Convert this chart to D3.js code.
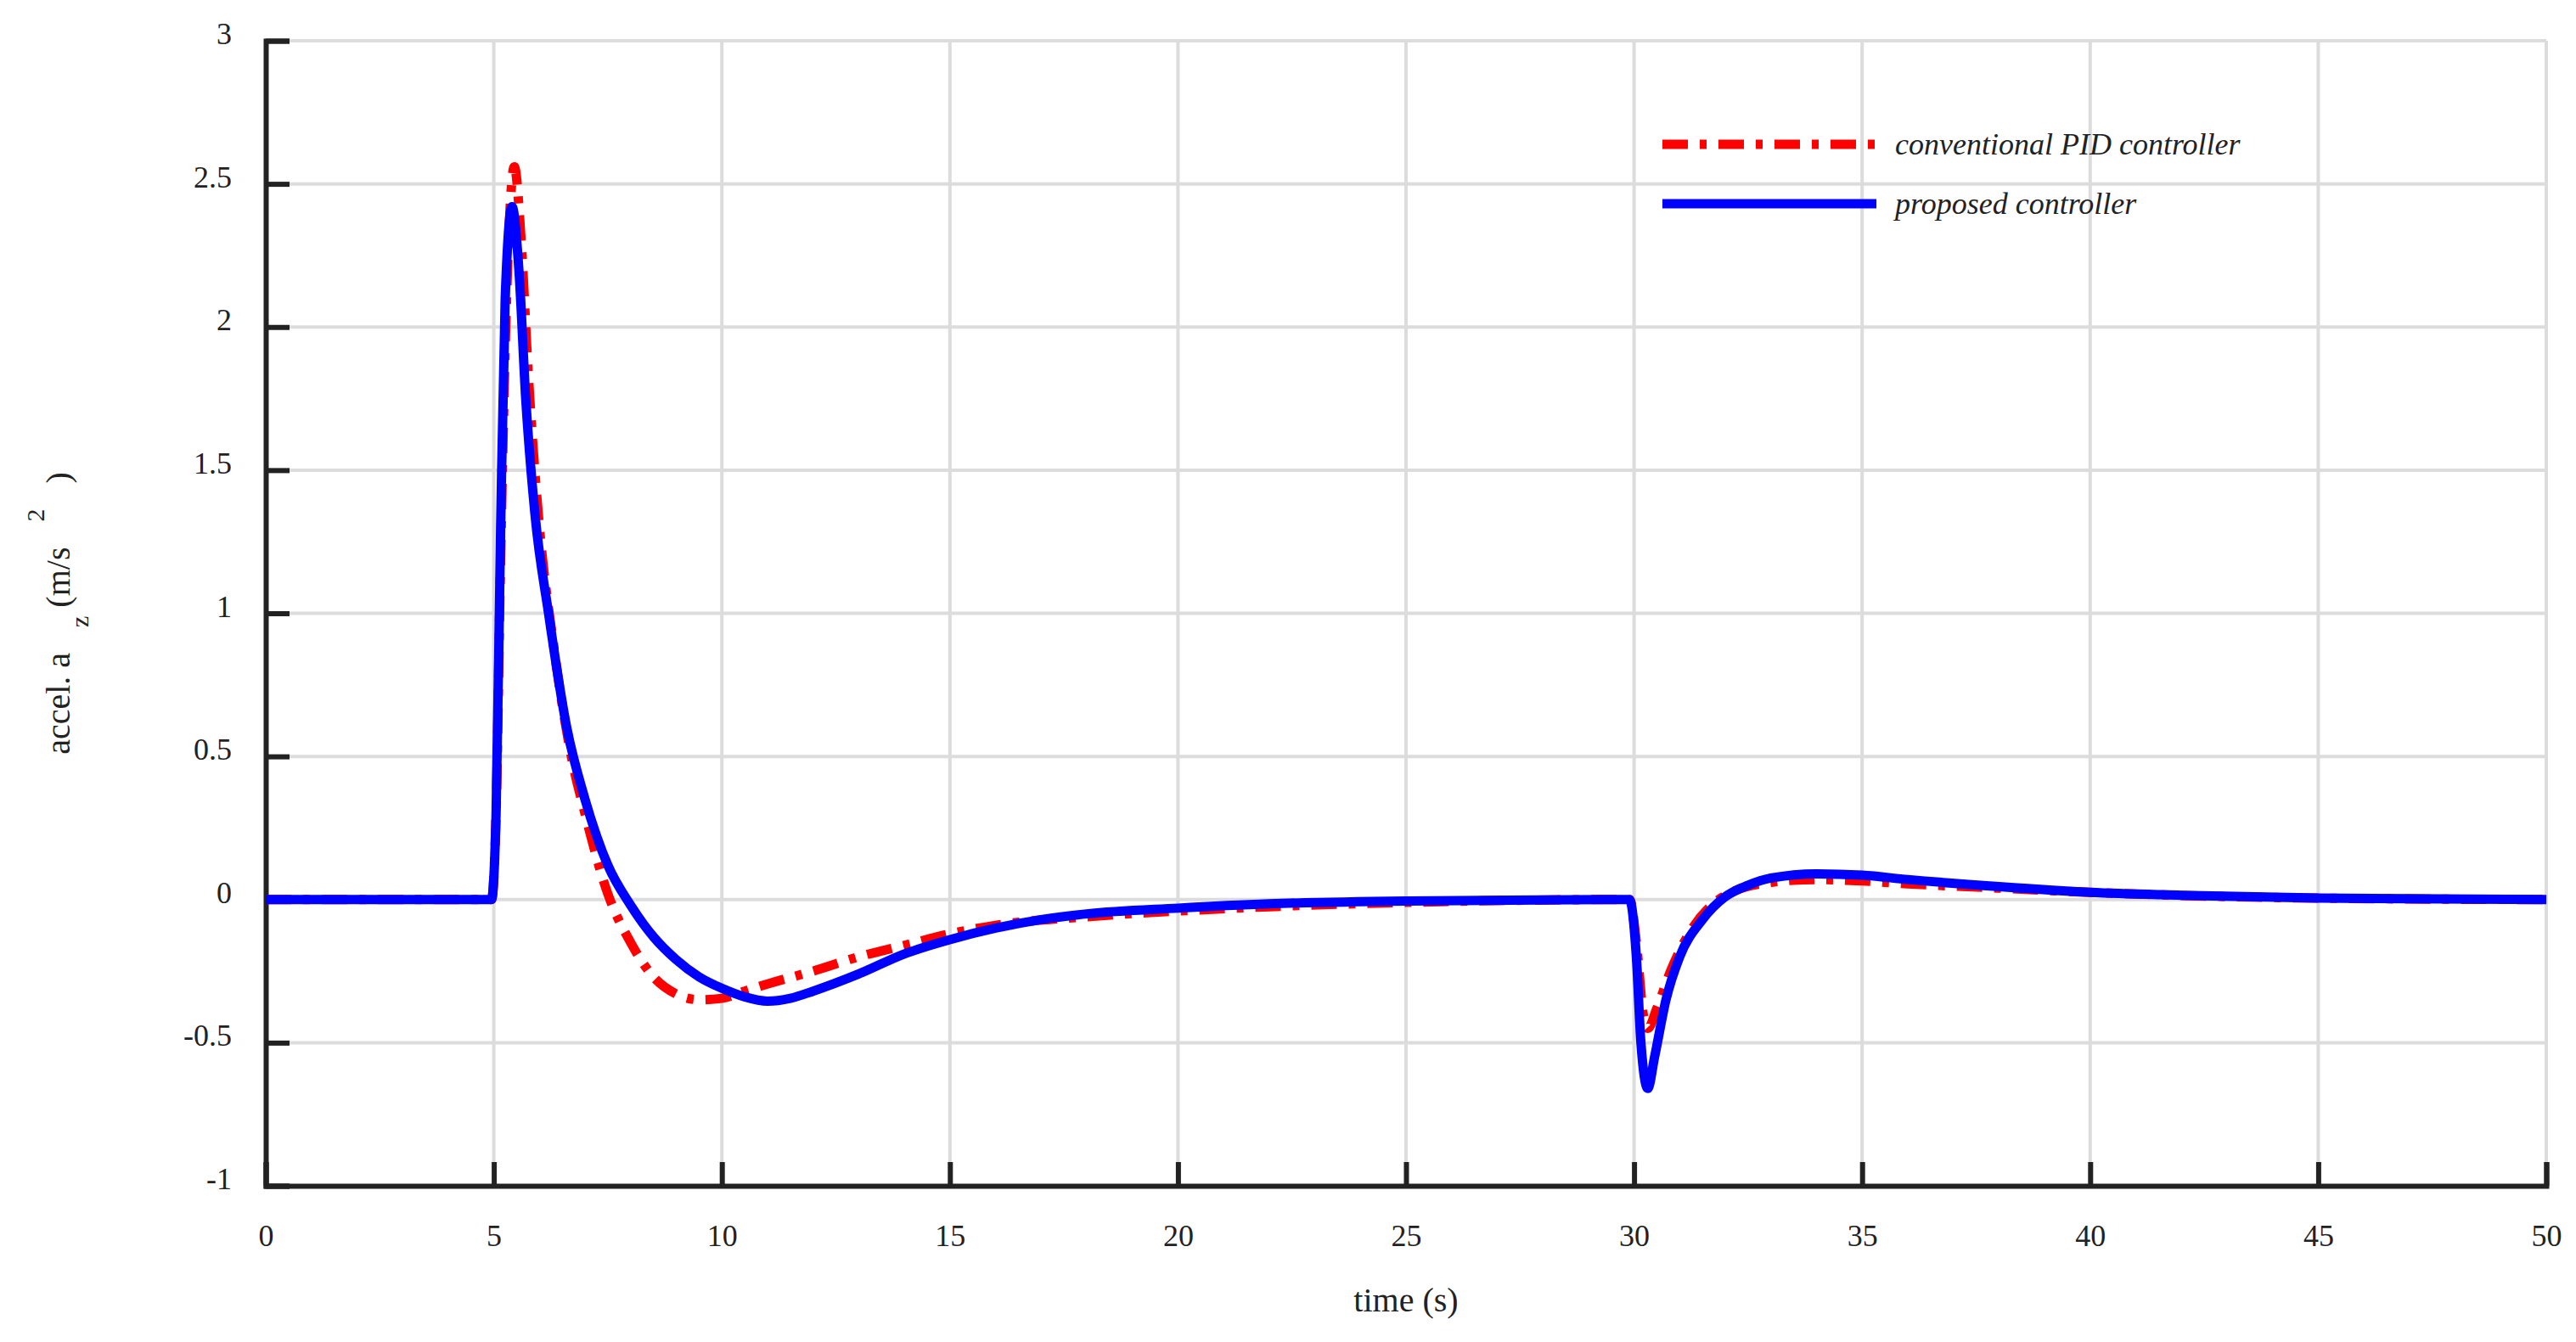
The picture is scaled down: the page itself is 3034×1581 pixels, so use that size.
<!DOCTYPE html>
<html><head><meta charset="utf-8">
<script src="https://cdn.jsdelivr.net/npm/d3@7"></script>
<style>body{margin:0;background:#fff}svg text{font-family:"Liberation Serif","Times New Roman",serif;fill:#222}</style>
</head><body><svg id="c" width="3034" height="1581"></svg>
<script>
const xTicks=[0,5,10,15,20,25,30,35,40,45,50];
const yTicks=[-1,-0.5,0,0.5,1,1.5,2,2.5,3];
const seriesNames=["conventional PID controller","proposed controller"];
const pidT=[0,4.95,5.05,5.15,5.3,5.45,5.6,5.75,6,6.3,6.7,7,7.5,8,8.5,9,9.5,10,10.5,11,12,13,14,15,16,18,20,22,25,29.9,30.05,30.2,30.3,30.5,30.8,31.2,31.7,32.2,33,34,35,36,38,40,45,50];
const pidV=[0,0,0.3,1.2,2.2,2.56,2.3,1.85,1.3,0.9,0.5,0.3,0.02,-0.15,-0.27,-0.33,-0.35,-0.345,-0.32,-0.295,-0.25,-0.2,-0.16,-0.12,-0.09,-0.06,-0.04,-0.025,-0.01,0,-0.15,-0.4,-0.45,-0.38,-0.25,-0.12,-0.02,0.03,0.06,0.07,0.065,0.055,0.04,0.025,0.005,0];
const propT=[0,4.95,5.05,5.15,5.25,5.4,5.55,5.7,5.9,6.2,6.6,7,7.5,8,8.5,9,9.5,10,10.5,11,11.5,12,13,14,15,16,17,18,20,22,25,29.9,30.05,30.15,30.3,30.45,30.7,31,31.5,32,32.5,33,34,35,36,38,40,42,45,50];
const propV=[0,0,0.3,1.3,2.1,2.42,2.2,1.75,1.35,1.0,0.6,0.35,0.12,-0.02,-0.13,-0.21,-0.27,-0.31,-0.34,-0.355,-0.345,-0.32,-0.26,-0.19,-0.14,-0.1,-0.07,-0.05,-0.03,-0.015,-0.005,0,-0.2,-0.5,-0.66,-0.55,-0.35,-0.2,-0.07,0.01,0.05,0.075,0.09,0.085,0.07,0.045,0.025,0.015,0.005,0];

const svg=d3.select("#c");
const L=313,R=2999,T=48,B=1397;
const x=d3.scaleLinear().domain([0,50]).range([L,R]);
const y=d3.scaleLinear().domain([-1,3]).range([B,T]);
const g=svg.append("g");
g.selectAll(".gx").data(xTicks.slice(1)).join("line").attr("x1",d=>x(d)).attr("x2",d=>x(d)).attr("y1",T).attr("y2",B).attr("stroke","#dcdcdc").attr("stroke-width",4);
g.selectAll(".gy").data(yTicks.slice(1)).join("line").attr("x1",L).attr("x2",R).attr("y1",d=>y(d)).attr("y2",d=>y(d)).attr("stroke","#dcdcdc").attr("stroke-width",4);
const xa=svg.append("g").attr("transform",`translate(0,${B})`).call(d3.axisBottom(x).tickValues(xTicks).tickSize(-28).tickPadding(45).tickFormat(d3.format("")));
const ya=svg.append("g").attr("transform",`translate(${L},0)`).call(d3.axisLeft(y).tickValues(yTicks).tickSize(-28).tickPadding(40).tickFormat(d=>d===0?"0":String(d).replace("0.",".").replace(/^\./,"0.").replace("-.","-0.")));
[xa,ya].forEach(a=>{a.select(".domain").attr("stroke","#222").attr("stroke-width",6);a.selectAll(".tick line").attr("stroke","#222").attr("stroke-width",6);a.selectAll("text").attr("font-size",36).attr("fill","#222").attr("font-family","Liberation Serif");});
ya.selectAll("text").attr("dy","0.1em");
const line=d3.line().x(d=>x(d[0])).y(d=>y(d[1])).curve(d3.curveMonotoneX);
svg.append("path").datum(pidT.map((t,i)=>[t,pidV[i]])).attr("d",line).attr("fill","none").attr("stroke","#ff0000").attr("stroke-width",11).attr("stroke-dasharray","30,14,8,14");
svg.append("path").datum(propT.map((t,i)=>[t,propV[i]])).attr("d",line).attr("fill","none").attr("stroke","#0000ff").attr("stroke-width",11).attr("stroke-linejoin","round");
// legend
const lg=[{n:seriesNames[0],c:"#ff0000",d:"30,14,8,14",yy:170},{n:seriesNames[1],c:"#0000ff",d:null,yy:240}];
lg.forEach(o=>{svg.append("line").attr("x1",1958).attr("x2",2210).attr("y1",o.yy).attr("y2",o.yy).attr("stroke",o.c).attr("stroke-width",11).attr("stroke-dasharray",o.d);
svg.append("text").attr("x",2232).attr("y",o.yy+12).attr("font-size",36).attr("font-style","italic").text(o.n);});
svg.append("text").attr("x",(L+R)/2).attr("y",1545).attr("text-anchor","middle").attr("font-size",40).text("time (s)");
const yl=svg.append("text").attr("transform",`translate(82,${y(1)}) rotate(-90)`).attr("text-anchor","middle").attr("font-size",40);
yl.append("tspan").text("accel. a");
yl.append("tspan").attr("font-size",30).attr("dy",22).attr("dx",30).text("z");
yl.append("tspan").attr("dy",-22).attr("dx",10).text("(m/s");
yl.append("tspan").attr("font-size",30).attr("dy",-30).attr("dx",30).text("2");
yl.append("tspan").attr("dy",30).attr("dx",30).text(")");
</script></body></html>
